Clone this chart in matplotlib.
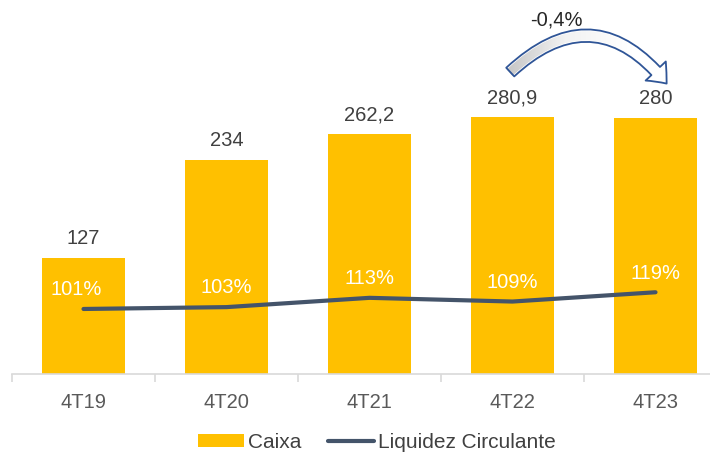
import matplotlib
matplotlib.use("Agg")
import matplotlib.pyplot as plt
import numpy as np
from matplotlib.patches import FancyArrowPatch
from matplotlib.colors import LinearSegmentedColormap

plt.rcParams['font.family'] = ['Liberation Sans', 'DejaVu Sans']

categories = ["4T19", "4T20", "4T21", "4T22", "4T23"]
caixa = [127, 234, 262.2, 280.9, 280]
caixa_labels = ["127", "234", "262,2", "280,9", "280"]
liquidez = [101, 103, 113, 109, 119]
liquidez_labels = ["101%", "103%", "113%", "109%", "119%"]
variacao_label = "-0,4%"

BAR = "#FFC000"
LINE = "#44546A"
TXT = "#404040"
FS = 14.5

fig = plt.figure(figsize=(7.10, 4.57), dpi=100)
ax = fig.add_axes([12/710, 83/457, 715/710, 366/457])
x = list(range(len(categories)))
ax.bar(x, caixa, width=0.58, color=BAR, zorder=2, label="Caixa")
for xi, v, lab in zip(x, caixa, caixa_labels):
    ax.annotate(lab, (xi, v), xytext=(0, 7), textcoords="offset points",
                ha="center", va="bottom", fontsize=FS, color=TXT)

for s in ["top", "right", "left"]:
    ax.spines[s].set_visible(False)
ax.spines["bottom"].set_color("#D9D9D9")
ax.spines["bottom"].set_linewidth(1.2)
ax.set_yticks([])
ax.set_xticks(x)
ax.set_xticklabels(categories, fontsize=FS, color="#595959")
ax.tick_params(axis="x", which="major", length=0, pad=14)
ax.set_xticks([i - 0.5 for i in range(len(categories) + 1)], minor=True)
ax.tick_params(axis="x", which="minor", length=6, color="#D9D9D9", width=1.2)

# curved arrow between 4T22 and 4T23
arrow = FancyArrowPatch((3 - 0.03, caixa[3] + 47), (4 + 0.09, caixa[4] + 35),
                        connectionstyle="arc3,rad=-0.55",
                        arrowstyle="simple,head_width=20,head_length=12,tail_width=8.5",
                        facecolor="none", edgecolor="#2F5597", lw=1.3,
                        mutation_scale=1, zorder=5)
ax.add_patch(arrow)
grad = np.linspace(0, 1, 256).reshape(1, -1)
cmap = LinearSegmentedColormap.from_list("g", ["#BFBFBF", "#F2F2F2", "#FFFFFF", "#FFFFFF"])
im = ax.imshow(grad, extent=[2.9, 4.3, 300, 400], aspect="auto", cmap=cmap, zorder=4)
im.set_clip_path(arrow)
ax.text(3.31, 387, variacao_label, ha="center", va="center", fontsize=FS, color="#262626")

ax.set_xlim(-0.5, 4.5)
ax.set_ylim(0, 400)

ax2 = ax.twinx()
ax2.plot(x, liquidez, color=LINE, lw=3, solid_capstyle="round", zorder=3,
         label="Liquidez Circulante")
ax2.set_ylim(31, 425)
ax2.axis("off")
for xi, v, lab in zip(x, liquidez, liquidez_labels):
    ax2.annotate(lab, (xi, v), xytext=(-5 if xi == 0 else 0, 7), textcoords="offset points",
                 ha="center", va="bottom", fontsize=FS, color="white")

h1, l1 = ax.get_legend_handles_labels()
h2, l2 = ax2.get_legend_handles_labels()
fig.legend(h1 + h2, l1 + l2, loc="lower center", bbox_to_anchor=(0.531, -0.03),
           ncol=2, frameon=False, fontsize=FS + 0.5, handlelength=2.2, handleheight=0.6,
           columnspacing=1.3, handletextpad=0.2, labelcolor="#404040")

fig.savefig("out.png", dpi=100)
